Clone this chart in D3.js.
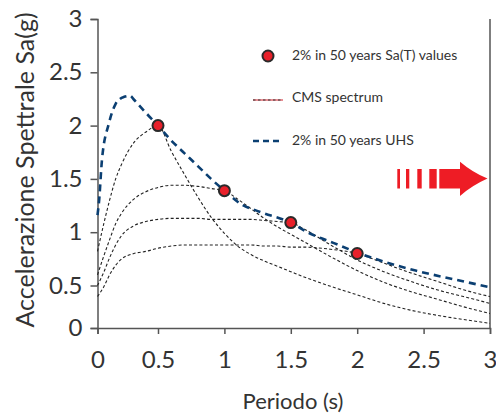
<!DOCTYPE html>
<html>
<head>
<meta charset="utf-8">
<script src="https://cdn.jsdelivr.net/npm/d3@7/dist/d3.min.js"></script>
<style>
  html, body { margin: 0; padding: 0; background: #fff; }
  svg { display: block; }
  text { font-family: Lato, "Noto Sans", sans-serif; fill: #333; }
</style>
</head>
<body>
<svg id="chart" width="496" height="417"></svg>
<script>
// Period grid (s) shared by the conditional mean spectra
const periods = [0, 0.05, 0.1, 0.15, 0.2, 0.3, 0.4, 0.5, 0.6, 0.7, 0.8, 0.9, 1.0, 1.1, 1.2, 1.3, 1.4, 1.5, 1.6, 1.8, 2.0, 2.2, 2.4, 2.6, 2.8, 3.0];

// CMS spectra conditioned on T = 0.5, 1.0, 1.5, 2.0 s
const cmsT05 = [0.82, 1.07, 1.30, 1.50, 1.64, 1.84, 1.94, 2.00, 1.76, 1.54, 1.33, 1.14, 0.99, 0.87, 0.79, 0.73, 0.68, 0.63, 0.58, 0.49, 0.39, 0.29, 0.21, 0.15, 0.10, 0.055];
const cmsT10 = [0.60, 0.77, 0.93, 1.08, 1.18, 1.31, 1.38, 1.42, 1.44, 1.44, 1.43, 1.41, 1.39, 1.31, 1.22, 1.13, 1.05, 0.98, 0.91, 0.77, 0.64, 0.53, 0.43, 0.34, 0.25, 0.17];
const cmsT15 = [0.50, 0.62, 0.76, 0.88, 0.97, 1.06, 1.10, 1.12, 1.13, 1.13, 1.13, 1.12, 1.12, 1.12, 1.12, 1.11, 1.10, 1.09, 1.03, 0.88, 0.74, 0.63, 0.54, 0.45, 0.37, 0.29];
const cmsT20 = [0.37, 0.48, 0.60, 0.69, 0.75, 0.80, 0.82, 0.85, 0.87, 0.88, 0.88, 0.88, 0.88, 0.88, 0.88, 0.87, 0.87, 0.86, 0.86, 0.84, 0.80, 0.71, 0.62, 0.54, 0.45, 0.37];

// Uniform hazard spectrum, 2% in 50 years
const uhsT  = [0, 0.012, 0.037, 0.094, 0.148, 0.185, 0.22, 0.27, 0.3, 0.4, 0.5, 0.6, 0.7, 0.8, 0.9, 1.0, 1.117, 1.27, 1.5, 1.64, 1.82, 2.0, 2.21, 2.44, 2.72, 3.0];
const uhsSa = [1.16, 1.28, 1.68, 2.02, 2.20, 2.25, 2.27, 2.28, 2.245, 2.12, 2.0, 1.86, 1.74, 1.62, 1.50, 1.39, 1.27, 1.19, 1.09, 0.99, 0.90, 0.81, 0.72, 0.64, 0.56, 0.48];

// Target Sa(T) values
const targetT  = [0.5, 1.0, 1.5, 2.0];
const targetSa = [2.0, 1.39, 1.09, 0.80];

// Axis ticks
const xTicks = [0, 0.5, 1, 1.5, 2, 2.5, 3];
const yTicks = [0, 0.5, 1, 1.5, 2, 2.5, 3];

const legendLabels = ["2% in 50 years Sa(T) values", "CMS spectrum", "2% in 50 years UHS"];

const svg = d3.select("#chart");

const x = d3.scaleLinear().domain([0, 0.5, 3]).range([97.5, 158, 490]);
const y = d3.scaleLinear().domain([0, 0.5, 3]).range([328, 285.5, 19]);

const axisColor = "#555";

// Right frame edge
svg.append("line")
  .attr("x1", x(3)).attr("x2", x(3))
  .attr("y1", y(3)).attr("y2", y(0))
  .attr("stroke", axisColor).attr("stroke-width", 1.5);

// X axis
const gx = svg.append("g").attr("transform", `translate(0,${y(0)})`)
  .call(d3.axisBottom(x).tickValues(xTicks).tickSize(6).tickPadding(6).tickFormat(d3.format("~g")));
// Y axis
const gy = svg.append("g").attr("transform", `translate(${x(0)},0)`)
  .call(d3.axisLeft(y).tickValues(yTicks).tickSize(7).tickPadding(8).tickFormat(d3.format("~g")));

[gx, gy].forEach(g => {
  g.select(".domain").attr("stroke", axisColor).attr("stroke-width", 1.5);
  g.selectAll(".tick line").attr("stroke", axisColor).attr("stroke-width", 1.5);
  g.selectAll(".tick text").attr("fill", "#333")
    .style("font-family", "Lato, 'Noto Sans', sans-serif").style("font-size", "24px");
});
gx.selectAll(".tick text").attr("y", 23);
// keep the last period label inside the page
gx.selectAll(".tick text").filter(d => d === 3).attr("text-anchor", "end").attr("dx", "7");

// Axis titles
svg.append("text")
  .attr("x", 293).attr("y", 409)
  .attr("text-anchor", "middle")
  .style("font-size", "22px")
  .text("Periodo (s)");

svg.append("text")
  .attr("transform", `translate(34,170) rotate(-90)`)
  .attr("text-anchor", "middle")
  .style("font-size", "25px")
  .text("Accelerazione Spettrale Sa(g)");

// CMS curves
const cmsLine = d3.line()
  .x((d, i) => x(periods[i]))
  .y(d => y(d))
  .curve(d3.curveMonotoneX);

[cmsT05, cmsT10, cmsT15, cmsT20].forEach(series => {
  svg.append("path")
    .attr("d", cmsLine(series))
    .attr("fill", "none")
    .attr("stroke", "#222")
    .attr("stroke-width", 1.1)
    .attr("stroke-dasharray", "3,2.2");
});

// UHS
const uhsLine = d3.line()
  .x((d, i) => x(uhsT[i]))
  .y(d => y(d))
  .curve(d3.curveMonotoneX);

svg.append("path")
  .attr("d", uhsLine(uhsSa))
  .attr("fill", "none")
  .attr("stroke", "#0b3f72")
  .attr("stroke-width", 2.6)
  .attr("stroke-dasharray", "7,5");

// Target points
svg.selectAll("circle.target")
  .data(targetSa)
  .join("circle")
  .attr("class", "target")
  .attr("cx", (d, i) => x(targetT[i]))
  .attr("cy", d => y(d))
  .attr("r", 5.5)
  .attr("fill", "#e8202a")
  .attr("stroke", "#2a2a2a")
  .attr("stroke-width", 2);

// Legend
const legX = 253, legW = 30, textX = 292;
const legend = svg.append("g");
legend.append("circle")
  .attr("cx", legX + legW / 2).attr("cy", 56)
  .attr("r", 5.5).attr("fill", "#e8202a")
  .attr("stroke", "#2a2a2a").attr("stroke-width", 2);
legend.append("line")
  .attr("x1", legX).attr("x2", legX + legW).attr("y1", 100).attr("y2", 100)
  .attr("stroke", "#d0202a").attr("stroke-width", 1);
legend.append("line")
  .attr("x1", legX).attr("x2", legX + legW).attr("y1", 100).attr("y2", 100)
  .attr("stroke", "#333").attr("stroke-width", 1).attr("stroke-dasharray", "2.5,2.5");
legend.append("line")
  .attr("x1", legX).attr("x2", legX + legW).attr("y1", 141).attr("y2", 141)
  .attr("stroke", "#0b3f72").attr("stroke-width", 2.4).attr("stroke-dasharray", "6,4");
[60, 102, 145].forEach((ty, i) => {
  legend.append("text")
    .attr("x", textX).attr("y", ty)
    .style("font-size", "14px")
    .text(legendLabels[i]);
});

// Direction arrow with speed stripes
const arrow = svg.append("g").attr("fill", "#ee1c25");
[[397.3, 2.7], [406, 3.3], [417.3, 4.4], [429.3, 7.4]].forEach(([bx, bw]) => {
  arrow.append("rect").attr("x", bx).attr("y", 169).attr("width", bw).attr("height", 19.5);
});
arrow.append("path")
  .attr("d", "M439.3,169 L460,169 L460,161.7 Q472,172 487.5,178.6 Q472,185.5 460,196 L460,188.5 L439.3,188.5 Z");
</script>
</body>
</html>
